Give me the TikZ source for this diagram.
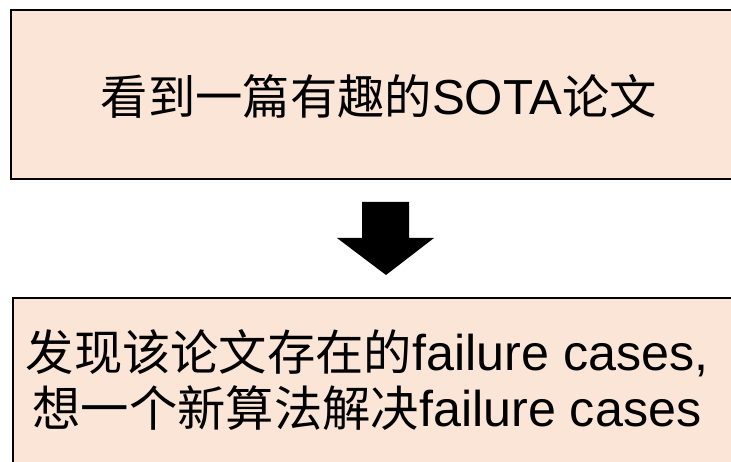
\documentclass[tikz,border=0pt]{standalone}
\usepackage{fontspec}
\setmainfont{Noto Sans CJK SC}
\newfontfamily\latf{Liberation Sans}[Scale=1.04]
\begin{document}
\begin{tikzpicture}[x=1bp,y=-1bp,
  box/.style={draw=black,line width=2.8bp,fill=peach},
  lbl/.style={font=\fontsize{47.5}{56}\selectfont,align=center,text=black,inner sep=0pt}]
\definecolor{peach}{HTML}{FBE5D6}
\useasboundingbox (0,0) rectangle (731,462);
\clip (0,0) rectangle (731,462);
\path[box] (11,10) rectangle (770,179);
\path[box] (13,298) rectangle (770,490);
\node[lbl] (top) at (379,96) {看到一篇有趣的{\latf SOTA}论文};
\node[lbl,font=\fontsize{48.5}{56}\selectfont] (bot) at (367,380) {发现该论文存在的{\latf failure cases,}\\想一个新算法解决{\latf failure cases}};
\fill[black] (362,202) -- (409,202) -- (409,238) -- (434,238) -- (386,275) -- (337,238) -- (362,238) -- cycle;
\end{tikzpicture}
\end{document}
